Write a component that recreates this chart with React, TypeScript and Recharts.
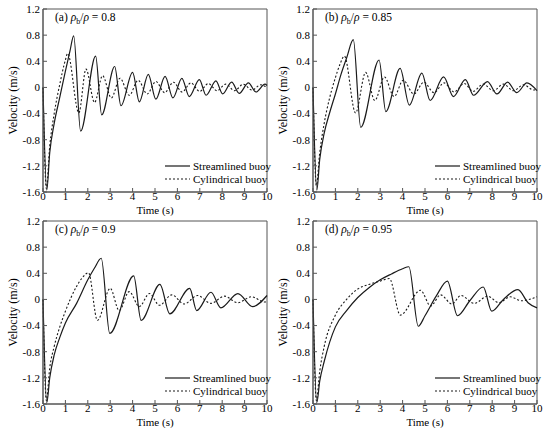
import { LineChart, Line, XAxis, YAxis, ReferenceArea } from 'recharts'

// time ticks and velocity ticks shared by the four panels
const timeTicks = [0, 1, 2, 3, 4, 5, 6, 7, 8, 9, 10]
const velTicks = [-1.6, -1.2, -0.8, -0.4, 0, 0.4, 0.8, 1.2]

// (a) rho_b/rho = 0.8
const aStreamT = [0, 0.17, 0.3, 0.5, 0.75, 1.0, 1.2, 1.37, 1.68, 2.35, 2.62, 3.2, 3.48, 4.0, 4.3, 4.7, 5.04, 5.45, 5.8, 6.2, 6.53, 6.98, 7.28, 7.72, 8.02, 8.42, 8.76, 9.17, 9.51, 9.91, 10]
const aStreamV = [0, -1.57, -1.0, -0.55, -0.15, 0.25, 0.55, 0.79, -0.67, 0.48, -0.42, 0.32, -0.28, 0.23, -0.22, 0.2, -0.18, 0.17, -0.16, 0.14, -0.14, 0.12, -0.12, 0.1, -0.1, 0.08, -0.09, 0.07, -0.07, 0.05, 0.03]
const aCylT = [0, 0.15, 0.3, 0.5, 0.75, 1.0, 1.1, 1.6, 1.92, 2.3, 2.66, 3.05, 3.44, 3.85, 4.25, 4.65, 5.04, 5.43, 5.82, 6.21, 6.6, 6.99, 7.38, 7.77, 8.16, 8.55, 8.94, 9.33, 9.72, 10]
const aCylV = [0, -1.55, -0.9, -0.4, 0.05, 0.42, 0.52, -0.39, 0.28, -0.23, 0.18, -0.16, 0.14, -0.12, 0.11, -0.1, 0.09, -0.08, 0.08, -0.07, 0.07, -0.06, 0.06, -0.05, 0.05, -0.05, 0.05, -0.04, 0.04, 0.0]

// (b) rho_b/rho = 0.85
const bStreamT = [0, 0.17, 0.3, 0.5, 0.75, 1.0, 1.25, 1.5, 1.8, 2.13, 2.95, 3.25, 3.89, 4.3, 4.86, 5.23, 5.83, 6.27, 6.8, 7.17, 7.79, 8.21, 8.69, 9.1, 9.55, 10]
const bStreamV = [0, -1.57, -1.1, -0.7, -0.38, -0.1, 0.2, 0.45, 0.73, -0.61, 0.42, -0.37, 0.29, -0.27, 0.22, -0.2, 0.16, -0.14, 0.12, -0.12, 0.09, -0.1, 0.08, -0.08, 0.07, -0.05]
const bCylT = [0, 0.15, 0.3, 0.5, 0.75, 1.0, 1.2, 1.4, 1.9, 2.35, 2.76, 3.19, 3.62, 4.03, 4.5, 4.95, 5.4, 5.85, 6.3, 6.75, 7.15, 7.6, 8.05, 8.5, 8.95, 9.4, 9.85, 10]
const bCylV = [0, -1.5, -1.0, -0.55, -0.15, 0.15, 0.35, 0.48, -0.39, 0.23, -0.2, 0.16, -0.14, 0.11, -0.1, 0.08, -0.08, 0.07, -0.07, 0.06, -0.06, 0.05, -0.05, 0.05, -0.05, 0.04, -0.04, -0.02]

// (c) rho_b/rho = 0.9
const cStreamT = [0, 0.17, 0.3, 0.5, 0.75, 1.0, 1.5, 2.0, 2.3, 2.6, 2.98, 4.05, 4.38, 5.22, 5.66, 6.55, 6.86, 7.5, 7.94, 8.7, 9.36, 10]
const cStreamV = [0, -1.58, -1.2, -0.85, -0.58, -0.36, -0.06, 0.3, 0.48, 0.63, -0.52, 0.36, -0.32, 0.23, -0.22, 0.17, -0.17, 0.11, -0.13, 0.09, -0.11, 0.06]
const cCylT = [0, 0.15, 0.3, 0.5, 0.75, 1.0, 1.5, 1.75, 2.03, 2.43, 3.0, 3.4, 3.85, 4.3, 4.75, 5.2, 5.75, 6.3, 6.9, 7.5, 8.1, 8.7, 9.3, 9.9, 10]
const cCylV = [0, -1.55, -1.05, -0.72, -0.42, -0.18, 0.2, 0.33, 0.41, -0.32, 0.17, -0.17, 0.12, -0.11, 0.09, -0.09, 0.07, -0.07, 0.06, -0.06, 0.05, -0.05, 0.04, -0.04, -0.03]

// (d) rho_b/rho = 0.95
const dStreamT = [0, 0.17, 0.3, 0.5, 1.0, 1.5, 2.0, 2.5, 3.0, 3.5, 4.0, 4.28, 4.7, 5.0, 5.5, 6.0, 6.45, 7.0, 7.6, 7.98, 8.5, 9.15, 9.6, 10]
const dStreamV = [0, -1.58, -1.25, -0.95, -0.42, -0.17, 0.03, 0.18, 0.3, 0.39, 0.47, 0.5, -0.41, -0.25, 0.05, 0.28, -0.25, -0.02, 0.19, -0.18, 0.0, 0.15, -0.05, -0.13]
const dCylT = [0, 0.15, 0.3, 0.5, 1.0, 1.5, 2.0, 2.5, 3.0, 3.41, 3.9, 4.8, 5.25, 5.7, 6.2, 6.6, 7.2, 7.8, 8.3, 8.8, 9.3, 10]
const dCylV = [0, -1.55, -1.1, -0.72, -0.24, 0.0, 0.16, 0.23, 0.28, 0.32, -0.24, 0.14, -0.1, 0.07, -0.07, 0.06, -0.06, 0.05, -0.05, 0.04, -0.02, 0.04]

const pts = (t: number[], v: number[]) => t.map((x, i) => ({ t: x, v: v[i] }))

const panels = [
  { tag: '(a)', ratio: '0.8', left: 0, top: 0, stream: pts(aStreamT, aStreamV), cyl: pts(aCylT, aCylV) },
  { tag: '(b)', ratio: '0.85', left: 270, top: 0, stream: pts(bStreamT, bStreamV), cyl: pts(bCylT, bCylV) },
  { tag: '(c)', ratio: '0.9', left: 0, top: 212, stream: pts(cStreamT, cStreamV), cyl: pts(cCylT, cCylV) },
  { tag: '(d)', ratio: '0.95', left: 270, top: 212, stream: pts(dStreamT, dStreamV), cyl: pts(dCylT, dCylV) },
]

const font = "'Liberation Serif', 'DejaVu Serif', serif"
const frame = '#555'
const ink = '#1a1a1a'
const tickStyle = { fontSize: 11, fill: '#000', fontFamily: font }

function LegendRow({ top, dashed, text }: { top: number; dashed?: boolean; text: string }) {
  return (
    <div style={{ position: 'absolute', left: 164, top: top - 7, height: 14, display: 'flex', alignItems: 'center' }}>
      <svg width={27} height={4} style={{ display: 'block' }}>
        <line x1={1} y1={2} x2={26} y2={2} stroke={ink} strokeWidth={1.2} strokeDasharray={dashed ? '2 2' : undefined} />
      </svg>
      <span style={{ marginLeft: 2, fontSize: 11, fontFamily: font, whiteSpace: 'nowrap' }}>{text}</span>
    </div>
  )
}

function Panel({ p }: { p: (typeof panels)[number] }) {
  return (
    <div style={{ position: 'absolute', left: p.left, top: p.top, width: 275, height: 216 }}>
      <LineChart width={275} height={216} margin={{ top: 9, right: 8, left: 0, bottom: 0 }} style={{ fontFamily: font }}>
        <XAxis
          type="number"
          dataKey="t"
          domain={[0, 10]}
          ticks={timeTicks}
          height={24}
          tickSize={-4}
          tickMargin={4}
          stroke={frame}
          tick={tickStyle}
          label={{ value: 'Time (s)', position: 'insideBottom', offset: 2, fontSize: 11, fill: '#000', fontFamily: font }}
        />
        <YAxis
          type="number"
          dataKey="v"
          domain={[-1.6, 1.2]}
          ticks={velTicks}
          width={43}
          tickSize={-4}
          tickMargin={7}
          stroke={frame}
          tick={tickStyle}
          tickFormatter={(v: number) => (v === 0 ? '0' : v.toFixed(1))}
          label={{
            value: 'Velocity (m/s)',
            angle: -90,
            position: 'insideLeft',
            offset: 13,
            fontSize: 12,
            fill: '#000',
            fontFamily: font,
            style: { textAnchor: 'middle' },
          }}
        />
        <Line data={p.cyl} dataKey="v" type="monotone" stroke={ink} strokeWidth={1.1} strokeDasharray="2 2" dot={false} isAnimationActive={false} />
        <Line data={p.stream} dataKey="v" type="monotone" stroke={ink} strokeWidth={1.2} dot={false} isAnimationActive={false} />
        <ReferenceArea x1={0} x2={10} y1={-1.6} y2={1.2} fill="none" stroke={frame} strokeWidth={1} />
      </LineChart>
      <div style={{ position: 'absolute', left: 55, top: 11, fontSize: 11.5, fontFamily: font, whiteSpace: 'nowrap' }}>
        {p.tag} <i>ρ</i>
        <sub style={{ fontSize: 8 }}>b</sub>/<i>ρ</i> = {p.ratio}
      </div>
      <LegendRow top={166} text="Streamlined buoy" />
      <LegendRow top={179} dashed text="Cylindrical buoy" />
    </div>
  )
}

export default function App() {
  return (
    <div style={{ position: 'absolute', left: 0, top: 0, width: 550, height: 432, background: '#fff' }}>
      {panels.map((p) => (
        <Panel key={p.tag} p={p} />
      ))}
    </div>
  )
}
